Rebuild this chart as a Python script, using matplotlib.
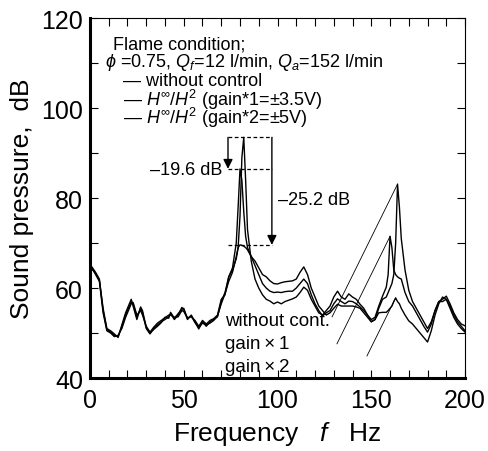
""" Sound pressure spectra with and without active control """

import numpy as np
import matplotlib
import matplotlib.pyplot as plt
from matplotlib.ticker import MultipleLocator

matplotlib.use('Agg')

plt.rcParams['font.family'] = ['Liberation Sans', 'DejaVu Sans']
plt.rcParams['mathtext.fontset'] = 'custom'
plt.rcParams['mathtext.rm'] = 'Liberation Sans'
plt.rcParams['mathtext.it'] = 'Liberation Sans:italic'

freq = [0, 1, 3, 5, 7, 9, 11, 13, 15, 17, 19, 21,
        22, 23, 25, 27, 28, 30, 32, 34, 36, 38, 40, 42,
        43, 45, 47, 49, 50, 52, 54, 56, 58, 60, 62, 64,
        66, 68, 70, 72, 74, 76, 78, 79, 80, 81, 82, 83,
        84, 86, 88, 90, 92, 94, 96, 98, 100, 102, 104, 106,
        108, 110, 112, 114, 116, 118, 120, 122, 124, 126, 128, 130,
        132, 134, 136, 138, 140, 142, 144, 146, 148, 150, 152, 154,
        156, 158, 159, 160, 161, 162, 163, 164, 165, 166, 168, 170,
        172, 174, 176, 178, 180, 182, 184, 186, 188, 190, 192, 194,
        196, 198, 200]

without_control = [63.0, 64.7, 63.5, 62.0, 55.0, 50.8, 50.2, 49.5, 49.2, 51.5, 54.0, 56.0,
                   57.0, 56.5, 53.5, 55.5, 54.6, 51.0, 49.8, 51.0, 51.8, 52.5, 53.0, 53.6,
                   54.3, 53.0, 54.0, 55.7, 55.2, 53.0, 54.0, 52.5, 50.9, 52.5, 51.5, 52.5,
                   53.0, 53.6, 57.0, 59.0, 62.5, 64.0, 66.5, 69.0, 76.0, 89.0, 93.5, 84.0,
                   73.0, 66.0, 62.0, 60.0, 58.5, 57.5, 57.1, 56.5, 56.9, 56.5, 57.0, 57.3,
                   57.6, 58.0, 59.0, 60.2, 59.5, 57.5, 56.0, 54.5, 54.0, 55.0, 56.0, 58.0,
                   59.3, 58.0, 57.5, 58.7, 58.0, 57.5, 56.4, 55.5, 54.0, 52.5, 53.0, 55.5,
                   57.5, 58.0, 59.0, 60.0, 61.0, 63.0, 70.0, 83.1, 78.0, 71.0, 64.0, 59.5,
                   57.0, 55.5, 54.0, 52.5, 51.0, 52.5, 55.0, 57.0, 57.5, 58.2, 56.5, 54.5,
                   53.0, 52.0, 51.6]

gain_1 = [63.2, 64.5, 63.0, 61.5, 54.5, 50.5, 50.0, 49.2, 49.5, 51.0, 53.5, 55.5,
          56.5, 56.8, 54.0, 55.0, 54.0, 51.5, 50.2, 51.3, 52.2, 52.8, 53.4, 54.0,
          54.0, 53.5, 53.6, 55.0, 54.8, 53.4, 53.6, 52.8, 51.5, 52.8, 52.0, 52.8,
          53.2, 54.0, 57.5, 58.5, 62.5, 64.5, 70.0, 78.0, 86.5, 84.0, 77.0, 71.5,
          69.0, 67.0, 65.0, 63.0, 61.0, 60.0, 59.3, 59.0, 59.1, 59.0, 59.2, 59.3,
          59.3, 60.0, 61.0, 62.0, 61.0, 58.5, 56.5, 55.0, 53.8, 54.5, 55.0, 56.5,
          57.6, 57.0, 56.5, 57.1, 57.0, 56.5, 55.8, 55.0, 54.0, 53.0, 53.5, 56.0,
          58.2, 60.2, 63.0, 71.5, 69.0, 64.0, 63.0, 62.5, 62.2, 62.0, 59.0, 57.0,
          56.0, 54.5, 53.0, 51.5, 50.2, 52.0, 55.0, 57.0, 57.0, 57.5, 56.0, 54.0,
          52.5, 51.5, 50.5]

gain_2 = [62.8, 64.3, 63.2, 61.8, 55.5, 51.0, 50.5, 49.8, 49.0, 51.8, 54.5, 56.5,
          57.5, 56.0, 53.0, 55.8, 55.0, 51.3, 50.0, 50.8, 51.5, 52.3, 53.5, 53.3,
          54.6, 53.3, 54.3, 55.3, 55.5, 53.2, 53.8, 52.3, 51.2, 52.2, 51.8, 52.2,
          52.8, 53.8, 56.5, 58.7, 61.5, 63.5, 67.0, 69.0, 69.6, 69.5, 69.3, 69.0,
          68.5, 67.0, 66.0, 64.5, 63.0, 62.5, 61.6, 61.0, 60.9, 61.2, 61.4, 61.5,
          61.6, 62.0, 63.5, 64.7, 63.0, 60.0, 58.0, 56.0, 55.0, 54.0, 54.5, 55.5,
          56.4, 56.0, 56.0, 56.0, 56.0, 55.8, 55.5, 54.5, 53.5, 52.5, 53.0, 54.5,
          54.6, 54.6, 55.0, 55.5, 56.0, 57.0, 57.8, 57.0, 56.5, 55.5, 54.0, 52.7,
          52.0, 51.0, 50.0, 49.0, 48.0, 50.5, 54.0, 56.5, 58.0, 57.5, 55.5, 53.5,
          52.0, 51.0, 50.2]

series = [without_control, gain_1, gain_2]
series_names = ["without cont.", "gain\u2009\u00d7\u20091", "gain\u2009\u00d7\u20092"]

fig = plt.figure(figsize=(4.89, 4.52), dpi=100)
ax = fig.add_axes([0.184, 0.1615, 0.767, 0.796])

for values in series:
    ax.plot(freq, values, color="black", linewidth=1.0)

ax.set_xlim(0, 200)
ax.set_ylim(40, 120)
ax.xaxis.set_major_locator(MultipleLocator(50))
ax.xaxis.set_minor_locator(MultipleLocator(10))
ax.yaxis.set_major_locator(MultipleLocator(20))
ax.yaxis.set_minor_locator(MultipleLocator(10))
ax.tick_params(which="both", direction="in", top=True, right=True,
               length=5.5, width=0.8, labelsize=18)
ax.tick_params(axis="x", pad=7)
ax.tick_params(axis="y", pad=5)
for side in ["left", "bottom"]:
    ax.spines[side].set_linewidth(2.2)
for side in ["top", "right"]:
    ax.spines[side].set_linewidth(0.8)

ax.set_xlabel("Frequency   $f$   Hz", fontsize=19, labelpad=5)
ax.set_ylabel("Sound pressure,  dB", fontsize=19, labelpad=5)

# flame condition / legend text
ax.text(12.3, 114.2, "Flame condition;", fontsize=13, va="center")
ax.text(8, 110.4, "$\\phi$ =0.75, $Q_f$=12 l/min, $Q_a$=152 l/min",
        fontsize=13, va="center")
ax.text(17.6, 106.2, "\u2014 without control", fontsize=13, va="center")
ax.text(17.6, 102.1, "\u2014 $H^{\\infty}/H^2$ (gain*1=\u00b13.5V)", fontsize=13, va="center")
ax.text(17.6, 98.0, "\u2014 $H^{\\infty}/H^2$ (gain*2=\u00b15V)", fontsize=13, va="center")

# reduction of the main peak
arr = np.array(series)
f = np.array(freq)
low = (f > 70) & (f < 90)
peaks_low = arr[:, low].max(axis=1)
x1, x2 = 73.6, 97
for level in peaks_low:
    ax.plot([x1, x2], [level] * 2, color="black", linestyle=(0, (3, 2)), linewidth=0.9)
ax.annotate("", xy=(x1, peaks_low[1]), xytext=(x1, peaks_low[0]),
            arrowprops=dict(arrowstyle="-|>", color="black", lw=1.0,
                            shrinkA=0, shrinkB=0, mutation_scale=14))
ax.annotate("", xy=(x2, peaks_low[2]), xytext=(x2, peaks_low[0]),
            arrowprops=dict(arrowstyle="-|>", color="black", lw=1.0,
                            shrinkA=0, shrinkB=0, mutation_scale=14))
ax.text(70.4, 86.4, "\u201319.6 dB", fontsize=13, ha="right", va="center")
ax.text(100.3, 79.8, "\u201325.2 dB", fontsize=13, ha="left", va="center")

# labels pointing to the second peak
high = (f > 150) & (f < 170)
label_pos = [(72, 52.8), (72, 47.6), (72, 42.6)]
line_start = [(129.1, 53.6), (131.7, 47.6), (147.7, 44.9)]
for values, name, pos, start in zip(arr, series_names, label_pos, line_start):
    idx = np.where(high)[0][values[high].argmax()]
    ax.text(pos[0], pos[1], name, fontsize=13.5, va="center")
    ax.plot([start[0], f[idx]], [start[1], values[idx]], color="black", linewidth=0.6)

fig.savefig("out.png", dpi=100)
